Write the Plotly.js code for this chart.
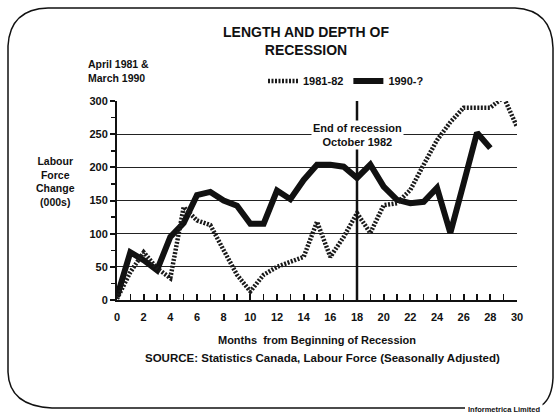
<!DOCTYPE html>
<html>
<head>
<meta charset="utf-8">
<script src="https://cdn.plot.ly/plotly-3.0.1.min.js"></script>
<style>
html,body{margin:0;padding:0;background:#fff;}
#chart{width:559px;height:419px;}
</style>
</head>
<body>
<div id="chart"></div>
<script>
// ---- data ----
const months1981 = [0,1,2,3,4,5,6,7,8,9,10,11,12,13,14,15,16,17,18,19,20,21,22,23,24,25,26,27,28,29,30];
const values1981 = [2,42,72,48,33,140,120,113,75,38,13,38,50,58,65,118,65,95,131,101,143,146,166,204,241,268,290,290,290,306,261];
const months1990 = [0,1,2,3,4,5,6,7,8,9,10,11,12,13,14,15,16,17,18,19,20,21,22,23,24,25,26,27,28];
const values1990 = [5,72,60,45,95,116,158,163,150,142,115,115,165,152,181,204,204,201,184,204,171,151,146,148,169,101,176,252,229];
const seriesNames = ["1981-82", "1990-?"];
const yTickVals = [0,50,100,150,200,250,300];
const recessionEndMonth = 18;

// plot area in pixels: left 117, right 517, top 101, bottom 300
const L = 117, R = 517, T = 101, B = 300, W = 559, H = 419;
const px = x => (x - L) / (R - L);
const py = y => (B - y) / (B - T);

const FONT = "Liberation Sans, Arial, sans-serif";
const INK = "#111";

const traces = [
  {
    x: months1990, y: values1990, name: seriesNames[1],
    mode: "lines", line: {color: INK, width: 6, shape: "linear"},
    cliponaxis: false
  },
  {
    x: months1981, y: values1981, name: seriesNames[0],
    mode: "lines", line: {color: "#1a1a1a", width: 4.5, dash: "2px,1.5px"},
    cliponaxis: false
  }
];

// rounded border path (pixel -> paper)
function P(x, y) { return px(x).toFixed(4) + "," + py(y).toFixed(4); }
const borderPath =
  "M " + P(465, 408) + " L " + P(52, 408) +
  " Q " + P(9, 406) + " " + P(8, 372) +
  " L " + P(8, 46) +
  " Q " + P(10, 9) + " " + P(48, 8) +
  " L " + P(515, 8) +
  " Q " + P(552, 10) + " " + P(553, 48) +
  " L " + P(553, 378) +
  " Q " + P(552, 398) + " " + P(542, 405);

const layout = {
  width: W, height: H,
  margin: {l: L, r: W - R, t: T, b: H - B},
  paper_bgcolor: "#fff", plot_bgcolor: "#fff",
  font: {family: FONT, color: INK, size: 11, weight: "bold"},
  title: {
    text: "LENGTH AND DEPTH OF<br>RECESSION",
    font: {family: FONT, size: 14, color: INK, weight: "bold"},
    x: 306 / W, xanchor: "center", y: 1 - 37 / H, yanchor: "top"
  },
  showlegend: true,
  legend: {
    orientation: "h", x: px(263), xanchor: "left", y: py(81), yanchor: "middle",
    font: {family: FONT, size: 11, color: INK, weight: "bold"},
    bgcolor: "rgba(0,0,0,0)", itemwidth: 30, traceorder: "reversed"
  },
  xaxis: {
    range: [0, 30], dtick: 2, tick0: 0,
    showgrid: false, zeroline: false,
    showline: true, linecolor: INK, linewidth: 2,
    ticks: "inside", ticklen: 6, tickwidth: 2, tickcolor: INK,
    ticklabelstandoff: 6,
    minor: {dtick: 1, ticks: "inside", ticklen: 6, tickwidth: 1.5, tickcolor: INK, showgrid: false},
    tickfont: {family: FONT, size: 11, color: INK, weight: "bold"},
    title: {
      text: "Months  from Beginning of Recession",
      font: {family: FONT, size: 11, color: INK, weight: "bold"},
      standoff: 14
    },
    fixedrange: true
  },
  yaxis: {
    range: [0, 300], tickvals: yTickVals,
    showgrid: true, gridcolor: "#222", gridwidth: 1,
    zeroline: false,
    showline: true, linecolor: INK, linewidth: 2,
    ticks: "outside", ticklen: 5, tickwidth: 2, tickcolor: INK,
    minor: {dtick: 25, ticks: "outside", ticklen: 4, tickwidth: 1.5, tickcolor: INK, showgrid: false},
    tickfont: {family: FONT, size: 11, color: INK, weight: "bold"},
    fixedrange: true
  },
  shapes: [
    {type: "line", xref: "x", yref: "y", x0: recessionEndMonth, x1: recessionEndMonth, y0: 0, y1: 300,
     line: {color: INK, width: 2.5}, layer: "above"},
    {type: "path", xref: "paper", yref: "paper", path: borderPath,
     line: {color: INK, width: 1.5}, fillcolor: "rgba(0,0,0,0)"}
  ],
  annotations: [
    {xref: "x", yref: "y", x: recessionEndMonth, y: 248, text: "End of recession<br>October 1982",
     showarrow: false, bgcolor: "#fff", font: {family: FONT, size: 11, color: INK, weight: "bold"},
     xanchor: "center", yanchor: "middle"},
    {xref: "paper", yref: "paper", x: px(86), y: py(71), text: "April 1981 &<br>March 1990",
     showarrow: false, align: "left", xanchor: "left", yanchor: "middle",
     font: {family: FONT, size: 10.5, color: INK, weight: "bold"}},
    {xref: "paper", yref: "paper", x: px(55), y: py(181), text: "Labour<br>Force<br>Change<br>(000s)",
     showarrow: false, align: "center", xanchor: "center", yanchor: "middle",
     font: {family: FONT, size: 10.5, color: INK, weight: "bold"}},
    {xref: "paper", yref: "paper", x: px(322), y: py(358),
     text: "SOURCE: Statistics Canada, Labour Force (Seasonally Adjusted)",
     showarrow: false, xanchor: "center", yanchor: "middle",
     font: {family: FONT, size: 11.5, color: INK, weight: "bold"}},
    {xref: "paper", yref: "paper", x: px(504), y: py(409), text: "Informetrica Limited",
     showarrow: false, xanchor: "center", yanchor: "middle", bgcolor: "#fff",
     font: {family: FONT, size: 7.5, color: INK, weight: "bold"}}
  ]
};

Plotly.newPlot("chart", traces, layout, {staticPlot: true, displayModeBar: false});
</script>
</body>
</html>
